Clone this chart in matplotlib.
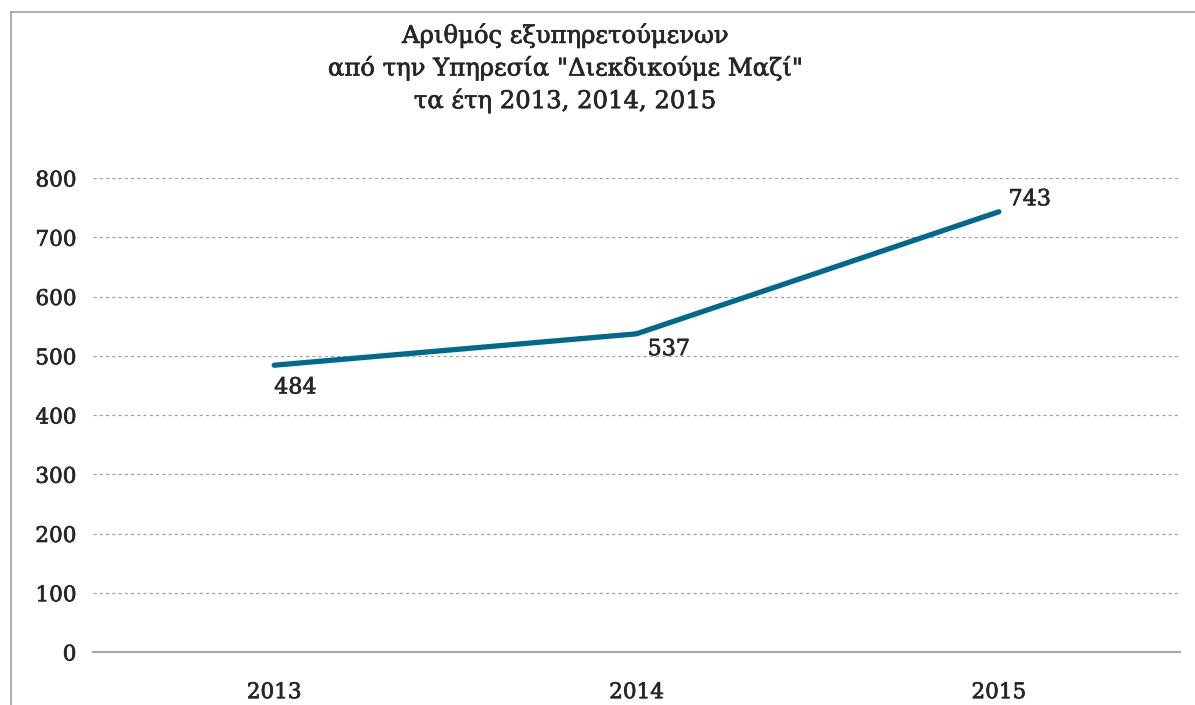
from matplotlib import pyplot as plt
from matplotlib.lines import Line2D
import matplotlib.patheffects as pe

years = ['2013', '2014', '2015']
served = [484, 537, 743]
yticks = [0, 100, 200, 300, 400, 500, 600, 700, 800]
title = 'Αριθμός εξυπηρετούμενων\nαπό την Υπηρεσία "Διεκδικούμε Μαζί"\nτα έτη 2013, 2014, 2015'

plt.rcParams['font.family'] = ['DejaVu Serif']
txt = '#262626'
# slightly heavier strokes, closer to the original font
thick = [pe.withStroke(linewidth=0.5, foreground=txt)]

fig = plt.figure(figsize=(11.95, 7.05), dpi=100)
ax = fig.add_axes([93 / 1195, 1 - 652 / 705, (1180 - 93) / 1195, (652 - 178) / 705])

x = range(len(years))
ax.plot(x, served, color='#00698f', linewidth=3.8, solid_capstyle='round')

# data labels (Excel-like placement)
offsets = [(0, -16), (8, -11), (7, 9)]
for i, v in enumerate(served):
    ax.annotate(str(v), (i, v), xytext=offsets[i], textcoords='offset points',
                ha='left', va='center', fontsize=16, color=txt, path_effects=thick)

ax.set_xlim(-0.5, 2.5)
ax.set_ylim(0, 800)
ax.set_yticks(yticks)
ax.set_xticks(list(x))
ax.set_xticklabels(years)
ax.tick_params(axis='both', length=0, labelsize=15.5, colors=txt)
ax.tick_params(axis='y', pad=12)
ax.tick_params(axis='x', pad=21)
for t in ax.get_xticklabels() + ax.get_yticklabels():
    t.set_path_effects(thick)
ax.grid(axis='y', color='#a0a0a0', linestyle=(0, (2.5, 2.5)), linewidth=0.9)
ax.set_axisbelow(True)
for s in ['top', 'right', 'left']:
    ax.spines[s].set_visible(False)
ax.spines['bottom'].set_color('#a6a6a6')
ax.spines['bottom'].set_linewidth(1.5)

fig.text(565 / 1195, 1 - 68 / 705, title, ha='center', va='center', fontsize=17.5,
         color=txt, linespacing=1.38, path_effects=thick)

# outer chart frame (left and top only visible)
fig.add_artist(Line2D([11 / 1195, 11 / 1195], [0, 1 - 12 / 705], color='#a0a0a0', lw=1.2))
fig.add_artist(Line2D([11 / 1195, 1], [1 - 12 / 705, 1 - 12 / 705], color='#a0a0a0', lw=1.2))

plt.savefig('out.png')
